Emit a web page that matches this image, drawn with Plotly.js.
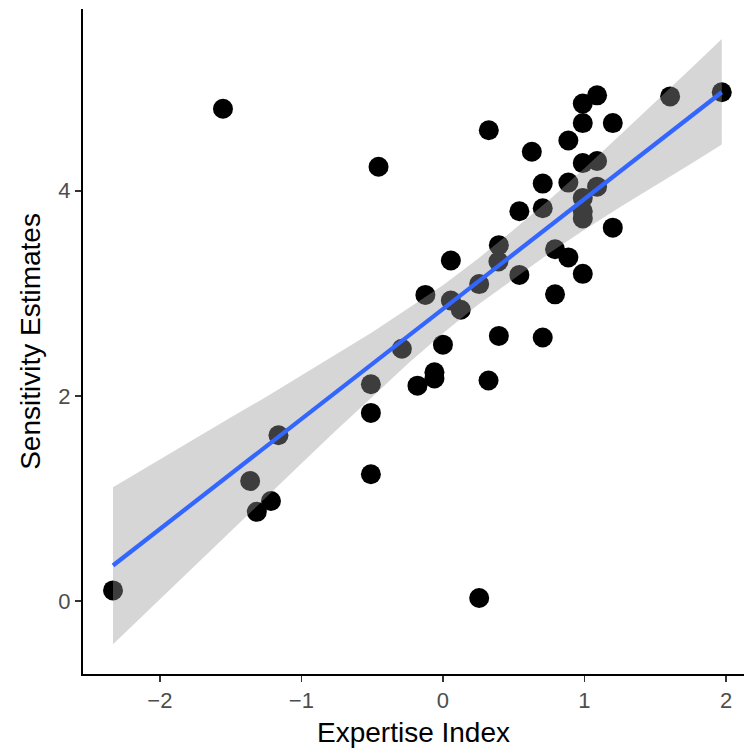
<!DOCTYPE html>
<html>
<head>
<meta charset="utf-8">
<script src="https://cdn.plot.ly/plotly-3.0.1.min.js"></script>
<style>html,body{margin:0;padding:0;background:#fff;}</style>
</head>
<body>
<div id="chart" style="width:744px;height:751px;"></div>
<script>
// Observed data: Expertise Index (x) vs Sensitivity Estimates (y)
const expertise = [-2.331, -1.554, -1.362, -1.315, -1.215, -1.162, -0.509, -0.509, -0.509, -0.455,
  -0.29, -0.18, -0.06, -0.06, -0.124, 0.0, 0.056, 0.056, 0.126, 0.256,
  0.256, 0.322, 0.324, 0.392, 0.395, 0.395, 0.540, 0.540, 0.628, 0.705,
  0.705, 0.705, 0.792, 0.792, 0.886, 0.886, 0.886, 0.988, 0.988, 0.988,
  0.988, 0.988, 0.988, 0.988, 1.089, 1.089, 1.089, 1.2, 1.2, 1.605, 1.97];
const sensitivity = [0.104, 4.80, 1.17, 0.87, 0.976, 1.617, 2.114, 1.834, 1.236, 4.234,
  2.46, 2.10, 2.23, 2.17, 2.985, 2.50, 3.32, 2.93, 2.84, 3.09,
  0.03, 2.15, 4.59, 3.31, 3.47, 2.585, 3.80, 3.18, 4.38, 4.07,
  3.83, 2.57, 3.43, 2.99, 4.49, 4.08, 3.35, 4.85, 4.66, 4.27,
  3.93, 3.80, 3.73, 3.19, 4.93, 4.29, 4.04, 4.66, 3.64, 4.92, 4.96];

// Linear fit line and its confidence band
const fitX = [-2.331, 1.97];
const fitY = [0.347, 4.96];
const bandX = [-2.331, -2.1, -1.8, -1.5, -1.25, -1, -0.75, -0.5, -0.25, 0, 0.25, 0.5, 0.75, 1, 1.25, 1.5, 1.75, 1.97];
const bandUpper = [1.11, 1.30, 1.54, 1.79, 1.99, 2.20, 2.41, 2.62, 2.85, 3.08, 3.34, 3.62, 3.91, 4.22, 4.54, 4.86, 5.19, 5.48];
const bandLower = [-0.42, -0.11, 0.29, 0.68, 1.01, 1.34, 1.67, 1.99, 2.31, 2.61, 2.89, 3.14, 3.39, 3.62, 3.84, 4.05, 4.26, 4.45];

const xTicks = [-2, -1, 0, 1, 2];
const xTickText = ['\u22122', '\u22121', '0', '1', '2'];
const yTicks = [0, 2, 4];
const yTickText = ['0', '2', '4'];

const polyX = bandX.concat(bandX.slice().reverse());
const polyY = bandUpper.concat(bandLower.slice().reverse());

const traces = [
  {
    type: 'scatter', mode: 'markers', x: expertise, y: sensitivity,
    marker: {color: '#000000', size: 20, line: {width: 0}},
    hoverinfo: 'skip', showlegend: false
  },
  {
    type: 'scatter', mode: 'lines', x: polyX, y: polyY, fill: 'toself',
    fillcolor: 'rgba(153,153,153,0.4)', line: {width: 0},
    hoverinfo: 'skip', showlegend: false
  },
  {
    type: 'scatter', mode: 'lines', x: fitX, y: fitY,
    line: {color: '#3366FF', width: 4.3},
    hoverinfo: 'skip', showlegend: false
  }
];

const tickFont = {family: 'Liberation Sans, Arial, sans-serif', size: 22, color: '#4D4D4D'};
const titleFont = {family: 'Liberation Sans, Arial, sans-serif', size: 28, color: '#000000'};

const layout = {
  width: 744, height: 751,
  margin: {l: 83, r: 0, t: 9, b: 77, pad: 0},
  paper_bgcolor: '#ffffff', plot_bgcolor: '#ffffff',
  showlegend: false,
  xaxis: {
    range: [-2.543, 2.127], showgrid: false, zeroline: false,
    showline: true, linecolor: '#000000', linewidth: 2,
    ticks: 'outside', ticklen: 6, tickwidth: 1.5, tickcolor: '#333333',
    tickvals: xTicks, ticktext: xTickText, tickfont: tickFont,
    automargin: false,
    title: {text: 'Expertise Index', font: titleFont, standoff: 10}
  },
  yaxis: {
    range: [-0.711, 5.772], showgrid: false, zeroline: false,
    showline: true, linecolor: '#000000', linewidth: 2,
    ticks: 'outside', ticklen: 6, tickwidth: 1.5, tickcolor: '#333333',
    tickvals: yTicks, ticktext: yTickText, tickfont: tickFont,
    automargin: false,
    title: {text: 'Sensitivity Estimates', font: titleFont, standoff: 10}
  }
};

Plotly.newPlot('chart', traces, layout, {displayModeBar: false, staticPlot: true});
</script>
</body>
</html>
